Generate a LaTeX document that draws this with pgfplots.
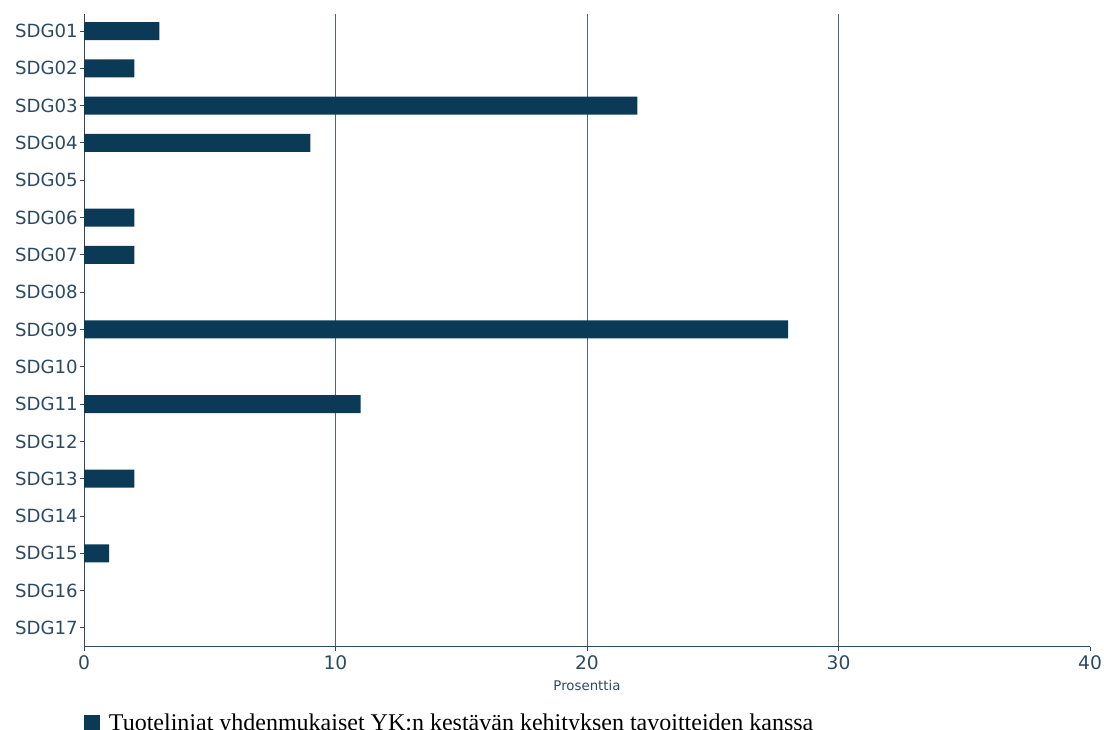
\documentclass[border=0pt]{standalone}
\usepackage{pgfplots}
\pgfplotsset{compat=1.18}
\usepackage{fontspec}
\setmainfont{DejaVu Sans}
\newfontfamily\legfont{Liberation Serif}
\definecolor{barcol}{HTML}{0B3A56}
\definecolor{txtcol}{HTML}{2E4A62}
\definecolor{gridcol}{HTML}{50657A}
\begin{document}
\begin{tikzpicture}
\useasboundingbox (0,0) rectangle (828pt,547.5pt);
\begin{axis}[
  at={(63pt,62.25pt)}, anchor=south west,
  scale only axis, width=754.5pt, height=474.75pt,
  xbar, bar width=13.5pt,
  xmin=0, xmax=40,
  xtick={10,20,30}, xmajorgrids,
  extra x ticks={0,40}, extra x tick style={grid=none},
  ymin=0.491, ymax=17.456,
  ytick={1,...,17},
  yticklabels={SDG17,SDG16,SDG15,SDG14,SDG13,SDG12,SDG11,SDG10,SDG09,SDG08,SDG07,SDG06,SDG05,SDG04,SDG03,SDG02,SDG01},
  axis x line*=bottom, axis y line*=left,
  axis line style={txtcol, line width=0.75pt, -},
  grid style={gridcol, line width=0.75pt},
  tick style={txtcol, line width=0.75pt}, tick align=outside, major tick length=3pt,
  ticklabel style={font=\fontsize{14}{16}\selectfont, text=txtcol},
  yticklabel style={font=\fontsize{13.6}{16}\selectfont, xshift=1.8pt},
  /pgf/number format/assume math mode=true,
  xlabel={Prosenttia}, xlabel style={font=\fontsize{10}{12}\selectfont, text=txtcol, yshift=5pt},
  legend style={at={(0,-0.1005)}, anchor=north west, draw=none, inner sep=0pt, font=\legfont\fontsize{18}{21}\selectfont, text=black, legend cell align=left},
]
\addplot[fill=barcol, draw=none, legend image code/.code={\fill[barcol] (0.75pt,-6pt) rectangle (12.75pt,6pt); \path (17.25pt,0pt);}] coordinates {
(3,17) (2,16) (22,15) (9,14) (2,12) (2,11) (28,9) (11,7) (2,5) (1,3)};
\legend{Tuotelinjat yhdenmukaiset YK:n kestävän kehityksen tavoitteiden kanssa}
\end{axis}
\end{tikzpicture}
\end{document}
